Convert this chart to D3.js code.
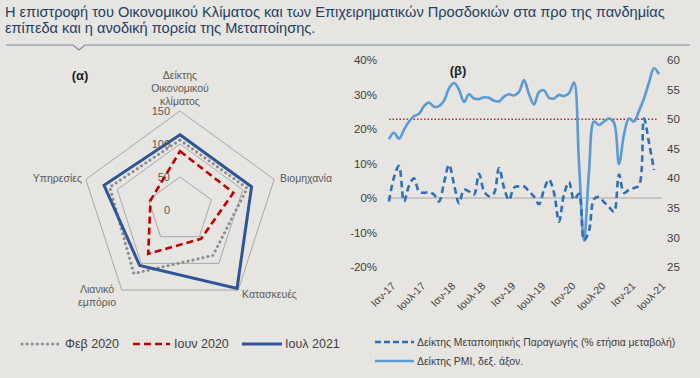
<!DOCTYPE html>
<html><head><meta charset="utf-8">
<script src="https://cdn.jsdelivr.net/npm/d3@7"></script>
<style>
html,body{margin:0;padding:0;background:#e7e5e1;}
svg{display:block;font-family:"Liberation Sans",Arial,sans-serif;}
</style></head>
<body><svg id="c" width="700" height="378"></svg>
<script>
// ---- DATA ----
const titleLines = ["Η επιστροφή του Οικονομικού Κλίματος και των Επιχειρηματικών Προσδοκιών στα προ της πανδημίας",
                    "επίπεδα και η ανοδική πορεία της Μεταποίησης."];
// Radar (α)
const radarAxes = [["Δείκτης","Οικονομικού","κλίματος"],["Βιομηχανία"],["Κατασκευές"],["Λιανικό","εμπόριο"],["Υπηρεσίες"]];
const radarTicks = [0,50,100,150];
const feb2020 = [106,107,85,119,112];
const jun2020 = [89,85,54,82,47];
const jul2021 = [114,114,147,104,121];
const radarSeriesNames = ["Φεβ 2020","Ιουν 2020","Ιουλ 2021"];
// Chart (β)
const months = ["2017-01","2017-02","2017-03","2017-04","2017-05","2017-06","2017-07","2017-08","2017-09","2017-10","2017-11","2017-12",
 "2018-01","2018-02","2018-03","2018-04","2018-05","2018-06","2018-07","2018-08","2018-09","2018-10","2018-11","2018-12",
 "2019-01","2019-02","2019-03","2019-04","2019-05","2019-06","2019-07","2019-08","2019-09","2019-10","2019-11","2019-12",
 "2020-01","2020-02","2020-03","2020-04","2020-05","2020-06","2020-07","2020-08","2020-09","2020-10","2020-11","2020-12",
 "2021-01","2021-02","2021-03","2021-04","2021-05","2021-06","2021-07"];
const pmi = [46.6,47.7,46.7,48.2,49.6,50.5,50.9,52.2,52.8,52.1,52.2,53.1,
 55.2,56.1,55.0,52.9,54.2,53.5,53.4,53.7,53.6,53.1,53.0,53.8,
 54.2,54.0,54.6,56.6,54.2,52.5,54.6,54.9,53.6,53.5,54.1,53.9,
 54.4,56.2,42.5,29.5,41.1,49.6,49.0,49.6,50.1,49.4,42.4,47.4,
 50.1,49.6,51.4,53.5,56.2,58.6,57.6];
const ip = [-1.0,6.0,9.3,-1.0,3.5,5.7,1.9,1.5,1.7,1.0,-1.0,4.4,
 9.6,4.0,-1.5,2.4,1.9,1.0,7.0,2.0,0.5,1.4,8.7,3.0,
 -0.6,3.0,3.4,3.4,1.9,0.4,-1.8,2.4,5.3,1.5,-6.9,1.0,
 4.6,-0.5,1.2,-12.2,-9.5,-0.3,0.3,-1.2,-2.6,-4.0,6.8,1.5,
 2.4,2.9,3.6,23.0,16.0,8.1];
const xTickMonths = ["2017-01","2017-07","2018-01","2018-07","2019-01","2019-07","2020-01","2020-07","2021-01","2021-07"];
const xTickLabels = ["Ιαν-17","Ιουλ-17","Ιαν-18","Ιουλ-18","Ιαν-19","Ιουλ-19","Ιαν-20","Ιουλ-20","Ιαν-21","Ιουλ-21"];
const leftTicks = [-20,-10,0,10,20,30,40];
const rightTicks = [25,30,35,40,45,50,55,60];
const pmiThreshold = 50;
const lineNames = ["Δείκτης Μεταποιητικής Παραγωγής (% ετήσια μεταβολή)","Δείκτης PMI, δεξ. άξον."];

// ---- DRAW ----
const svg = d3.select("#c");
const txt = "#404040";

// title
svg.selectAll("text.title").data(titleLines).join("text")
  .attr("x",5).attr("y",(d,i)=>17+i*16).attr("font-size",14.6).attr("fill","#243f63").text(d=>d);
// rule with notch
svg.append("path").attr("d","M6,45 H73 L79,50 L85,45 H690").attr("fill","none").attr("stroke","#7d8da3").attr("stroke-width",1.2);

// ---- Radar ----
const cx=180, cy=210;
const r = d3.scaleLinear().domain([0,150]).range([0,99]);
const ang = i => (-90 + 72*i) * Math.PI/180;
const pt = (v,i) => [cx + r(v)*Math.cos(ang(i)), cy + r(v)*Math.sin(ang(i))];
const lineR = d3.line().curve(d3.curveLinearClosed);
const rg = svg.append("g");
radarTicks.filter(t=>t>0).forEach(t=>{
  rg.append("path").attr("d", lineR(d3.range(5).map(i=>pt(t,i))))
    .attr("fill","none").attr("stroke","#a8a8a8").attr("stroke-width",1);
});
radarTicks.forEach(t=>{
  rg.append("text").attr("x",cx-10).attr("y",cy-r(t)).attr("dy","0.35em").attr("text-anchor","end")
    .attr("font-size",11).attr("fill","#595959").text(t);
});
const radarStyles = [
  {data:feb2020, color:"#8c8c8c", w:3, dash:"0.1,5", cap:"round"},
  {data:jun2020, color:"#c00000", w:2.6, dash:"7,4", cap:"butt"},
  {data:jul2021, color:"#2f5597", w:3, dash:null, cap:"butt"}
];
radarStyles.forEach(s=>{
  rg.append("path").attr("d", lineR(s.data.map((v,i)=>pt(v,i))))
    .attr("fill","none").attr("stroke",s.color).attr("stroke-width",s.w)
    .attr("stroke-dasharray",s.dash).attr("stroke-linecap",s.cap).attr("stroke-linejoin","miter");
});
// axis category labels
const catPos = [
  {x:180,y:79,anchor:"middle"},
  {x:280,y:182,anchor:"start"},
  {x:242,y:298,anchor:"start"},
  {x:97,y:293,anchor:"middle"},
  {x:82,y:182,anchor:"end"}
];
radarAxes.forEach((lines,i)=>{
  const t = rg.append("text").attr("font-size",10.5).attr("fill","#595959").attr("text-anchor",catPos[i].anchor);
  lines.forEach((l,j)=>t.append("tspan").attr("x",catPos[i].x).attr("y",catPos[i].y+j*13).text(l));
});
svg.append("text").attr("x",80).attr("y",80).attr("text-anchor","middle").attr("font-size",13)
  .attr("font-weight","bold").attr("fill","#222").text("(α)");
// radar legend
const legX = [[22,60,65],[133,170,174],[242,282,285]];
radarStyles.forEach((s,i)=>{
  svg.append("line").attr("x1",legX[i][0]).attr("x2",legX[i][1]).attr("y1",344).attr("y2",344)
    .attr("stroke",s.color).attr("stroke-width",s.w).attr("stroke-dasharray",s.dash).attr("stroke-linecap",s.cap);
  svg.append("text").attr("x",legX[i][2]).attr("y",344).attr("dy","0.35em").attr("font-size",12.5)
    .attr("fill","#404040").text(radarSeriesNames[i]);
});

// ---- Chart (β) ----
const x = d3.scalePoint().domain(months).range([389,659]);
const yL = d3.scaleLinear().domain([-20,40]).range([267,60]);
const yR = d3.scaleLinear().domain([25,60]).range([267,60]);
const bg = svg.append("g");
// zero line
bg.append("line").attr("x1",387).attr("x2",662).attr("y1",yL(0)).attr("y2",yL(0)).attr("stroke","#a6a6a6").attr("stroke-width",1);
// PMI 50 line
bg.append("line").attr("x1",389).attr("x2",658).attr("y1",yR(pmiThreshold)).attr("y2",yR(pmiThreshold))
  .attr("stroke","#d0202a").attr("stroke-width",1.5).attr("stroke-dasharray","1.5,2");
// axes
const axL = bg.append("g").attr("transform","translate(380,0)")
  .call(d3.axisLeft(yL).tickValues(leftTicks).tickSize(0).tickPadding(3).tickFormat(d=>d+"%"));
const axR = bg.append("g").attr("transform","translate(663,0)")
  .call(d3.axisRight(yR).tickValues(rightTicks).tickSize(0).tickPadding(4));
const axB = bg.append("g").attr("transform","translate(0,284)")
  .call(d3.axisBottom(x).tickValues(xTickMonths).tickSize(0).tickFormat((d,i)=>xTickLabels[i]));
[axL,axR,axB].forEach(a=>{a.select(".domain").remove(); a.selectAll("text").attr("font-size",11.5).attr("fill",txt)
  .attr("font-family","Liberation Sans, Arial, sans-serif");});
axB.selectAll("text").attr("y",0).attr("x",0).attr("dy","0.35em").attr("text-anchor","end")
  .attr("font-size",10.5).attr("transform","translate(4,0) rotate(-45)");
// lines
const lineIP = d3.line().x((d,i)=>x(months[i])).y(d=>yL(d)).curve(d3.curveCatmullRom.alpha(0.5));
const linePMI = d3.line().x((d,i)=>x(months[i])).y(d=>yR(d)).curve(d3.curveCatmullRom.alpha(0.5));
bg.append("path").attr("d",linePMI(pmi)).attr("fill","none").attr("stroke","#5b9bd5").attr("stroke-width",2.6);
bg.append("path").attr("d",lineIP(ip)).attr("fill","none").attr("stroke","#2e6fb7").attr("stroke-width",2.6).attr("stroke-dasharray","6.5,4");
svg.append("text").attr("x",458).attr("y",75).attr("text-anchor","middle").attr("font-size",13)
  .attr("font-weight","bold").attr("fill","#222").text("(β)");
// legend (β)
const lg = [{y:342,color:"#2e6fb7",dash:"6,3"},{y:361,color:"#5b9bd5",dash:null}];
lg.forEach((l,i)=>{
  svg.append("line").attr("x1",375).attr("x2",414).attr("y1",l.y).attr("y2",l.y).attr("stroke",l.color)
    .attr("stroke-width",2.6).attr("stroke-dasharray",l.dash);
  svg.append("text").attr("x",417).attr("y",l.y).attr("dy","0.35em").attr("font-size",10.4)
    .attr("fill","#404040").text(lineNames[i]);
});
</script></body></html>
